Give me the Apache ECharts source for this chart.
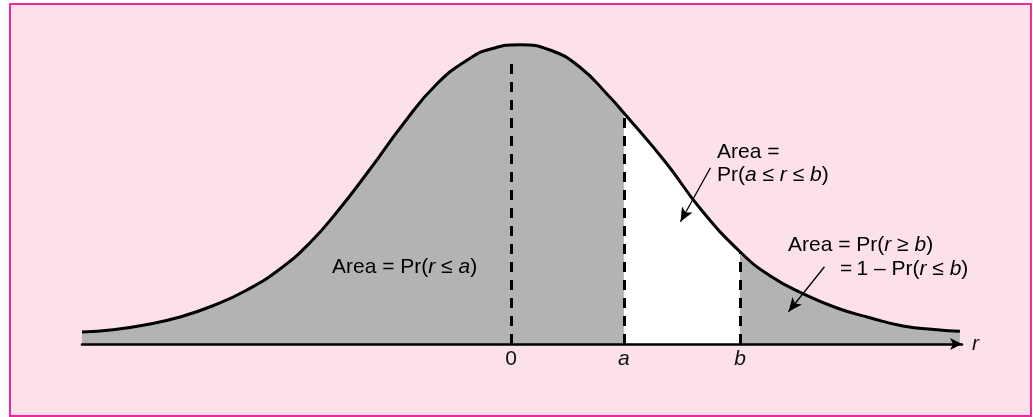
<!DOCTYPE html>
<html>
<head>
<meta charset="utf-8">
<script src="https://cdn.jsdelivr.net/npm/echarts@6/dist/echarts.min.js"></script>
<style>
  html, body { margin: 0; padding: 0; background: #fff; }
  #chart { width: 1033px; height: 417px; }
</style>
</head>
<body>
<div id="chart"></div>
<script>
// curve (x in sigma-ish units, y as density)
const curveX = [-2.86, -2.653, -2.427, -2.207, -1.987, -1.76, -1.54, -1.34, -1.16, -0.94, -0.72, -0.493, -0.273, -0.14, 0.06, 0.26, 0.46, 0.66, 0.753, 1.04, 1.26, 1.527, 1.727, 1.947, 2.173, 2.393, 2.613, 2.84, 2.993]
const curveY = [0.016, 0.019, 0.026, 0.036, 0.051, 0.072, 0.100, 0.135, 0.176, 0.233, 0.293, 0.347, 0.381, 0.393, 0.399, 0.392, 0.369, 0.329, 0.308, 0.240, 0.181, 0.123, 0.091, 0.067, 0.048, 0.035, 0.024, 0.019, 0.017]

const aVal = 0.753
const bVal = 1.527
const tickValues = [0, aVal, bVal]
const tickLabels = ['{n|0}', '{i|a}', '{i|b}']
const dashTops = [0.384, 0.308, 0.123]

// annotation arrows: [from, to]
const arrowFrom = [[1.33, 0.235], [2.09, 0.103]]
const arrowTo = [[1.13, 0.163], [1.85, 0.043]]

const FONT = 'Liberation Sans, Arial, Helvetica, sans-serif'
const TXT = '#111'
const rich = {
  n: { fontFamily: FONT, fontSize: 21, color: TXT },
  i: { fontFamily: FONT, fontSize: 21, color: TXT, fontStyle: 'italic' }
}

const pts = curveX.map((x, i) => [x, curveY[i]])
const leftPts = pts.filter(p => p[0] <= aVal)
const midPts = pts.filter(p => p[0] >= aVal && p[0] <= bVal)
const rightPts = pts.filter(p => p[0] >= bVal)

const areaSeries = (data, color) => ({
  type: 'line',
  data: data,
  smooth: 0.5,
  showSymbol: false,
  silent: true,
  lineStyle: { width: 0 },
  areaStyle: { color: color, opacity: 1 },
  z: 2
})

const chart = echarts.init(document.getElementById('chart'))

const label = (x, y, text) => ({
  type: 'text',
  x: x,
  y: y,
  z: 100,
  style: { text: text, rich: rich, verticalAlign: 'middle', align: 'left' }
})

const option = {
  animation: false,
  backgroundColor: '#fff',
  grid: { left: 82, right: 71, top: 44, bottom: 73, containLabel: false, outerBoundsMode: 'none' },
  xAxis: {
    type: 'value',
    min: -2.86,
    max: 3.007,
    z: 10,
    name: 'r',
    nameLocation: 'end',
    nameGap: 10,
    nameTextStyle: { fontFamily: FONT, fontSize: 21, fontStyle: 'italic', color: TXT, verticalAlign: 'middle' },
    axisLine: {
      show: true,
      symbol: ['none', 'arrow'],
      symbolSize: [9, 12],
      lineStyle: { color: '#000', width: 2.5 }
    },
    axisTick: { show: false },
    splitLine: { show: false },
    axisLabel: {
      customValues: tickValues,
      margin: 5,
      formatter: v => tickLabels[tickValues.indexOf(v)] || '',
      rich: rich
    }
  },
  yAxis: {
    type: 'value',
    min: 0,
    max: 0.4,
    show: false,
    splitLine: { show: false }
  },
  graphic: [
    {
      type: 'rect',
      z: -10,
      shape: { x: 10, y: 4, width: 1021, height: 412 },
      style: { fill: '#fce1ea', stroke: '#ee2a9a', lineWidth: 2 }
    },
    label(332, 267, '{n|Area = Pr(}{i|r}{n| ≤ }{i|a}{n|)}'),
    label(717, 152, '{n|Area =}'),
    label(717, 175, '{n|Pr(}{i|a}{n| ≤ }{i|r}{n| ≤ }{i|b}{n|)}'),
    label(788, 245, '{n|Area = Pr(}{i|r}{n| ≥ }{i|b}{n|)}'),
    label(840, 269, '{n|=\u20091 – Pr(}{i|r}{n| ≤ }{i|b}{n|)}')
  ],
  series: [
    areaSeries(leftPts, '#b3b3b3'),
    areaSeries(midPts, '#ffffff'),
    areaSeries(rightPts, '#b3b3b3'),
    {
      type: 'line',
      data: pts,
      smooth: 0.5,
      showSymbol: false,
      silent: true,
      lineStyle: { color: '#000', width: 3 },
      z: 4,
      markLine: {
        silent: true,
        symbol: ['none', 'none'],
        label: { show: false },
        lineStyle: { color: '#000', width: 3, type: [10, 8] },
        data: tickValues.map((x, i) => [{ coord: [x, 0] }, { coord: [x, dashTops[i]] }])
      }
    },
    {
      type: 'line',
      data: [],
      silent: true,
      z: 5,
      markLine: {
        silent: true,
        symbol: ['none', 'arrow'],
        symbolSize: [9, 14],
        label: { show: false },
        lineStyle: { color: '#000', width: 1.3, type: 'solid' },
        data: arrowFrom.map((p, i) => [{ coord: p }, { coord: arrowTo[i] }])
      }
    }
  ]
}

chart.setOption(option)
</script>
</body>
</html>
